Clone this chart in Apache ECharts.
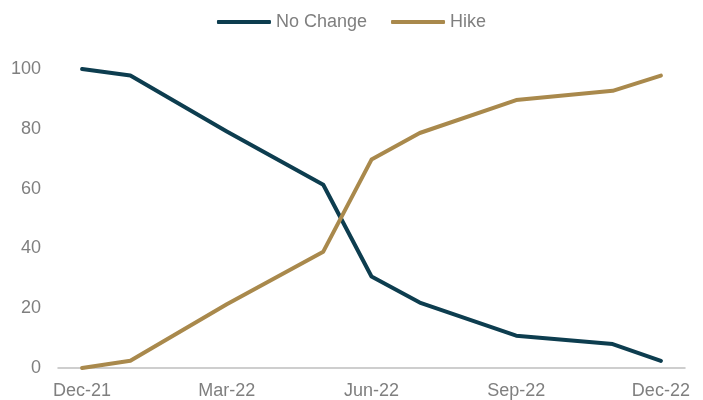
<!DOCTYPE html>
<html>
<head>
<meta charset="utf-8">
<script src="https://cdn.jsdelivr.net/npm/echarts@6/dist/echarts.min.js"></script>
<style>
  html, body { margin: 0; padding: 0; background: #ffffff; }
  #chart { width: 703px; height: 400px; }
</style>
</head>
<body>
<div id="chart"></div>
<script>
// Monthly axis; probabilities are only quoted in meeting months (others left empty)
var months = ['Dec-21', 'Jan-22', 'Feb-22', 'Mar-22', 'Apr-22', 'May-22', 'Jun-22',
              'Jul-22', 'Aug-22', 'Sep-22', 'Oct-22', 'Nov-22', 'Dec-22'];
var noChange = [100, 97.8, null, 79.1, null, 61.3, 30.6, 21.9, null, 10.8, null, 8.0, 2.4];
var hike     = [0, 2.4, null, 21.3, null, 38.9, 69.7, 78.6, null, 89.6, null, 92.7, 97.8];
var yTicks   = { min: 0, max: 100, step: 20 };

var textGray = '#7f7f7f';
var font = 'Liberation Sans, Arial, sans-serif';

var chart = echarts.init(document.getElementById('chart'), null, { renderer: 'canvas' });
chart.setOption({
  animation: false,
  backgroundColor: '#ffffff',
  color: ['#0d3d4f', '#a9894c'],
  legend: {
    top: 8,
    left: 'center',
    icon: 'roundRect',
    itemWidth: 54,
    itemHeight: 4,
    itemGap: 24,
    textStyle: { color: textGray, fontSize: 18, fontFamily: font },
    data: ['No Change', 'Hike']
  },
  grid: { left: 58, right: 18, top: 69, bottom: 31, containLabel: false },
  xAxis: {
    type: 'category',
    data: months,
    boundaryGap: true,
    axisLine: { lineStyle: { color: '#bfbfbf', width: 1.5 } },
    axisTick: { show: false },
    axisLabel: { interval: 2, color: textGray, fontSize: 18, fontFamily: font, margin: 14 },
    splitLine: { show: false }
  },
  yAxis: {
    type: 'value',
    min: yTicks.min,
    max: yTicks.max,
    interval: yTicks.step,
    axisLine: { show: false },
    axisTick: { show: false },
    splitLine: { show: false },
    axisLabel: { color: textGray, fontSize: 18, fontFamily: font, margin: 17 }
  },
  series: [
    {
      name: 'No Change',
      type: 'line',
      data: noChange,
      connectNulls: true,
      showSymbol: false,
      symbol: 'none',
      lineStyle: { width: 4, cap: 'round', join: 'round' }
    },
    {
      name: 'Hike',
      type: 'line',
      data: hike,
      connectNulls: true,
      showSymbol: false,
      symbol: 'none',
      lineStyle: { width: 4, cap: 'round', join: 'round' }
    }
  ]
});
</script>
</body>
</html>
